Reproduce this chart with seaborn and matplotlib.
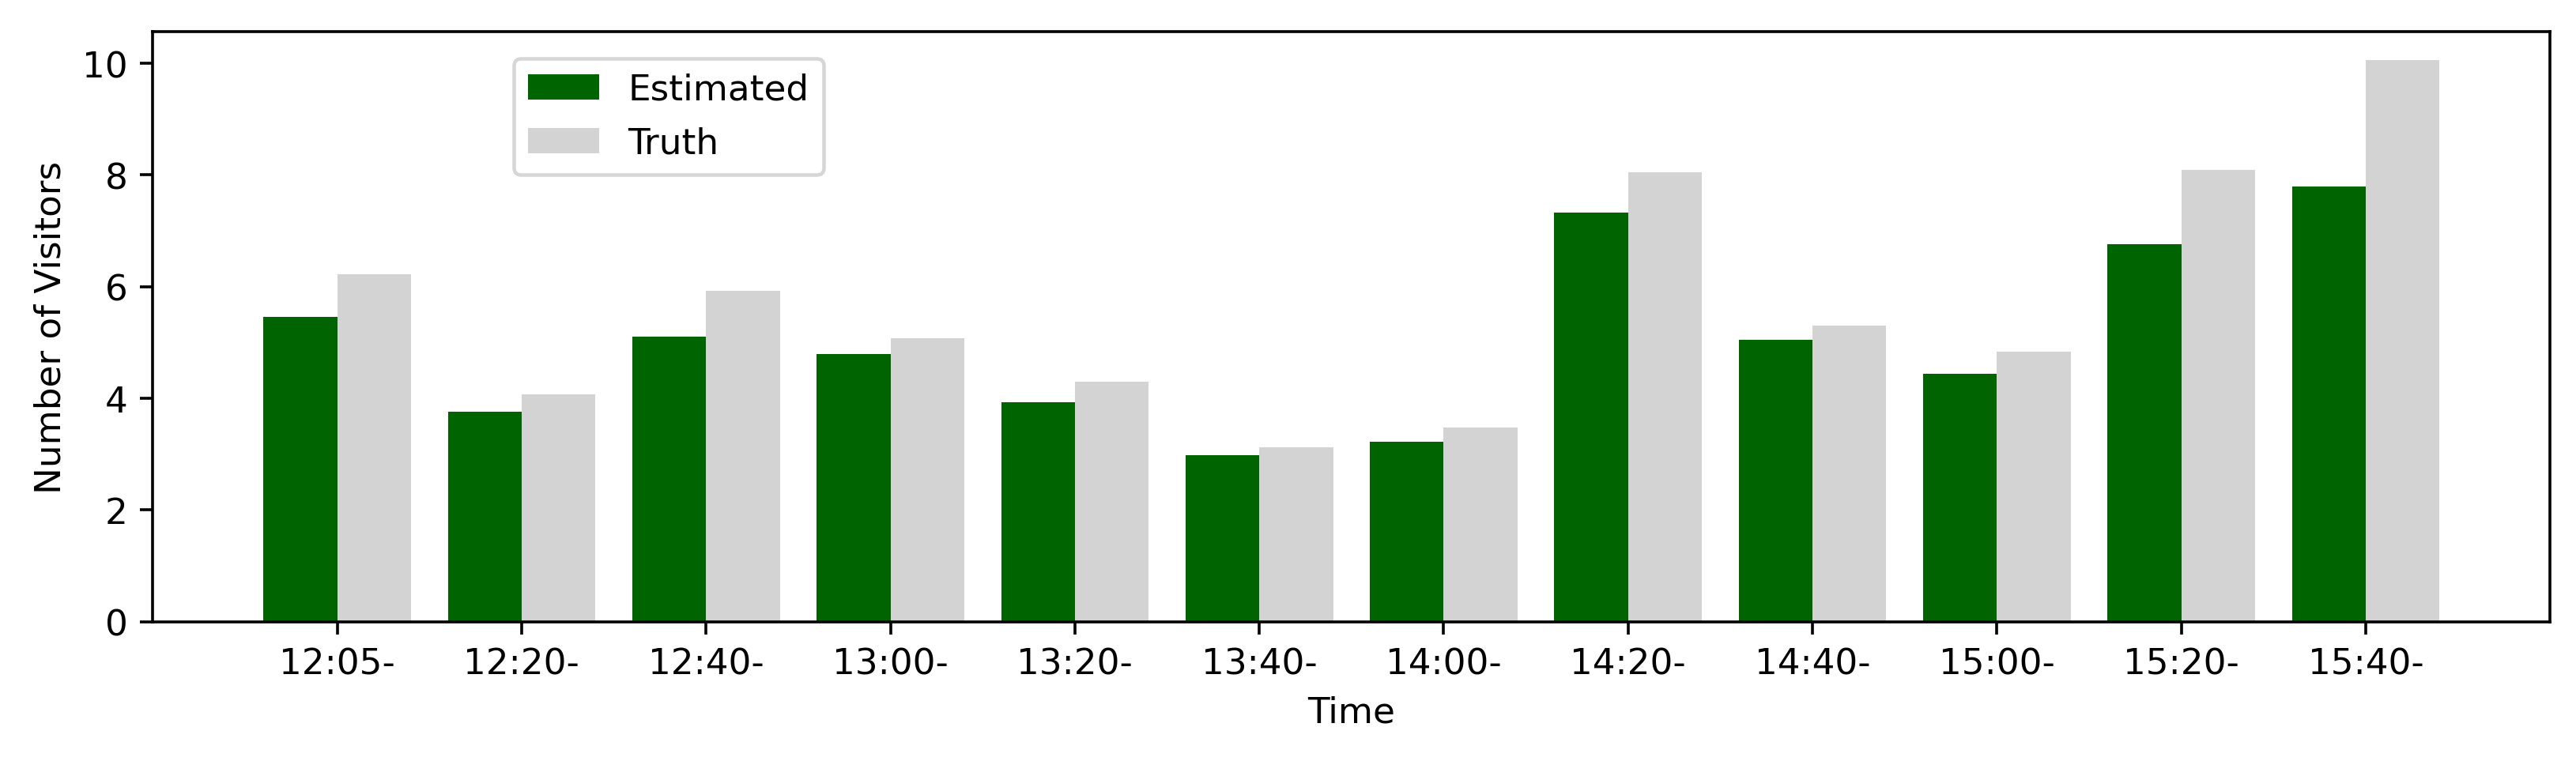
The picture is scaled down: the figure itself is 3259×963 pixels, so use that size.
import pandas as pd
import matplotlib
matplotlib.use("Agg")
import matplotlib.pyplot as plt
import seaborn as sns

# -----------------------------
# Data
# -----------------------------
times = ["12:05-", "12:20-", "12:40-", "13:00-", "13:20-", "13:40-",
         "14:00-", "14:20-", "14:40-", "15:00-", "15:20-", "15:40-"]
estimated = [5.46, 3.76, 5.11, 4.80, 3.93, 2.98, 3.22, 7.33, 5.05, 4.44, 6.76, 7.80]
truth = [6.23, 4.07, 5.92, 5.07, 4.30, 3.12, 3.48, 8.05, 5.31, 4.84, 8.09, 10.06]

df = pd.DataFrame({
    "Time": times * 2,
    "Visitors": estimated + truth,
    "Series": ["Estimated"] * len(times) + ["Truth"] * len(times),
})

# -----------------------------
# Plot
# -----------------------------
dpi = 326
fig, ax = plt.subplots(figsize=(3259 / dpi, 964 / dpi), dpi=dpi)
fig.subplots_adjust(left=0.0593, right=0.990, top=0.957, bottom=0.183)

sns.barplot(data=df, x="Time", y="Visitors", hue="Series",
            palette=["darkgreen", "lightgray"], saturation=1,
            errorbar=None, linewidth=0, width=0.8, ax=ax)

ax.set_xlim(-1, 12)
ax.set_xlabel("Time")
ax.set_ylabel("Number of Visitors")
ax.legend(title=None, loc="upper left", bbox_to_anchor=(0.143, 0.986),
          labelspacing=0.55)

fig.savefig("out.png", dpi=dpi)
